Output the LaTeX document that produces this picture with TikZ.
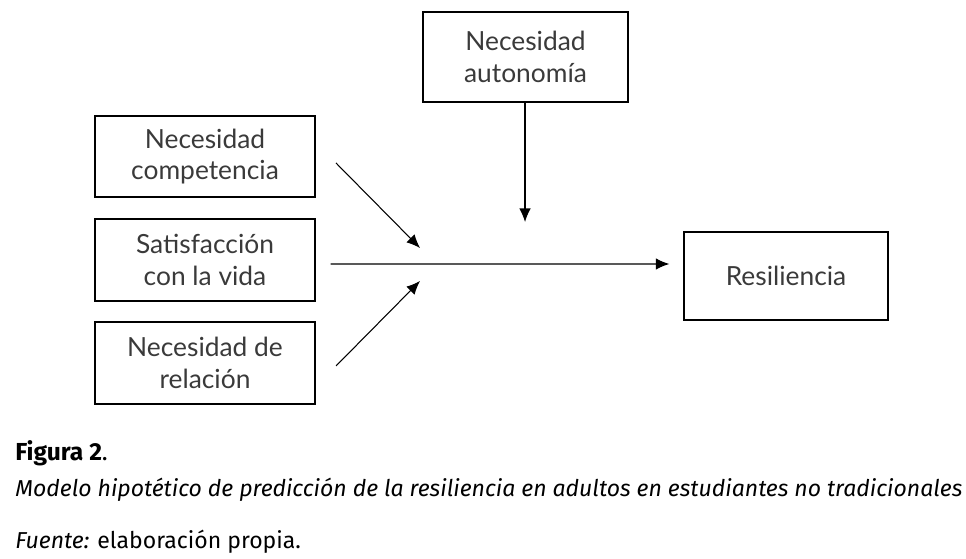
\documentclass[tikz,border=0pt]{standalone}
\usepackage{fontspec}
\setmainfont{Lato}
\newfontfamily\capfont{Fira Sans}
\usepackage{tikz}
\usetikzlibrary{arrows.meta,positioning,calc}

\definecolor{boxtext}{HTML}{3A3A3A}

\begin{document}
\begin{tikzpicture}[font=\fontsize{15}{18}\selectfont,
  varbox/.style={draw, line width=0.8pt, text=boxtext, align=center, inner sep=2pt},
  arr/.style={line width=0.6pt, -{Latex[length=2.7mm,width=2.3mm]}}]
\useasboundingbox (0,0) rectangle (19.32,11.18);
\def\w{4.4cm}
\node[varbox, minimum width=4.1cm, minimum height=1.8cm] (auton) at (10.51,10.04) {Necesidad\\autonomía};
\node[varbox, minimum width=\w, minimum height=1.62cm] (comp) at (4.10,8.05) {Necesidad\\competencia};
\node[varbox, minimum width=\w, minimum height=1.64cm] (satis) at (4.10,5.98) {Satisfacción\\con la vida};
\node[varbox, minimum width=\w, minimum height=1.64cm] (rel) at (4.10,3.92) {Necesidad de\\relación};
\node[varbox, minimum width=4.08cm, minimum height=1.76cm] (resil) at (15.72,5.66) {Resiliencia};

% free ends of the arrows
\coordinate (autontip) at (10.50,6.74);
\coordinate (compstart) at (6.72,7.92);
\coordinate (comptip) at (8.40,6.22);
\coordinate (relstart) at (6.72,3.86);
\coordinate (reltip) at (8.40,5.56);

\draw[arr] (auton.south -| autontip) -- (autontip);
\draw[arr] (compstart) -- (comptip);
\draw[arr] (relstart) -- (reltip);
\draw[arr] ([shift={(0.3,-0.08)}]satis.east) -- ([shift={(-0.28,0.24)}]resil.west);

% caption
\node[anchor=west, inner sep=0, font=\capfont\fontsize{14}{16}\selectfont] (figlabel) at (0.30,2.12) {\textbf{Figura 2}.};
\node[anchor=west, inner sep=0, font=\capfont\fontsize{13.1}{15}\selectfont\itshape] (figtitle) at (0.30,1.38) {Modelo hipotético de predicción de la resiliencia en adultos en estudiantes no tradicionales};
\node[anchor=west, inner sep=0, font=\capfont\fontsize{13.1}{15}\selectfont] (figsource) at (0.30,0.34) {\textit{Fuente:} elaboración propia.};
\end{tikzpicture}
\end{document}
